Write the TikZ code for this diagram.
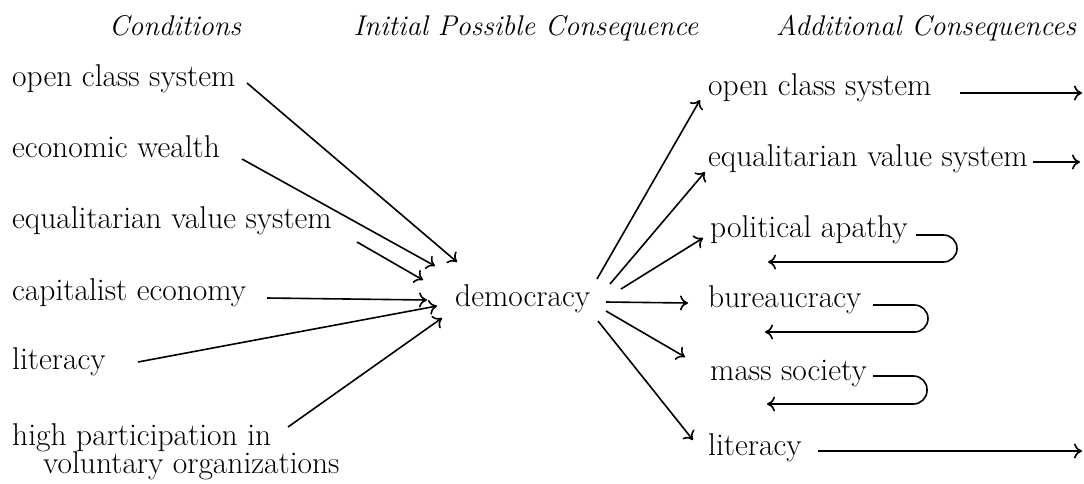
\documentclass[tikz,border=0pt]{standalone}
\usetikzlibrary{arrows.meta}
\begin{document}
\begin{tikzpicture}[x=1pt,y=-1pt,
  lab/.style={anchor=base west,inner sep=0pt,font=\fontsize{31.5}{36}\selectfont},
  head/.style={anchor=base,inner sep=0pt,font=\fontsize{28.5}{32}\selectfont\itshape},
  arr/.style={line width=1.6pt,-{To[length=8pt,width=15pt]}},
  loop/.style={arr,rounded corners=13.5pt}]
\useasboundingbox (0,0) rectangle (1084,483);
% headers
\node[head] (h1) at (175,35) {Conditions};
\node[head] (h2) at (526,35) {Initial Possible Consequence};
\node[head] (h3) at (926,35) {Additional Consequences};
% conditions
\node[lab] (c1) at (12,86) {open class system};
\node[lab] (c2) at (12,157) {economic wealth};
\node[lab] (c3) at (12,228) {equalitarian value system};
\node[lab] (c4) at (12,300) {capitalist economy};
\node[lab] (c5) at (12,369) {literacy};
\node[lab] (c6) at (12,445) {high participation in};
\node[lab] (c6b) at (43,473) {voluntary organizations};
% initial consequence
\node[lab] (demo) at (455,306) {democracy};
% additional consequences
\node[lab] (r1) at (708,95) {open class system};
\node[lab] (r2) at (708,166) {equalitarian value system};
\node[lab] (r3) at (710,237) {political apathy};
\node[lab] (r4) at (708,307) {bureaucracy};
\node[lab] (r5) at (710,380) {mass society};
\node[lab] (r6) at (708,455) {literacy};
% arrows into democracy
\draw[arr] ([shift={(235,-3)}]c1.base west) -- ([shift={(2,-44)}]demo.base west);
\draw[arr] ([shift={(230,2)}]c2.base west) -- ([shift={(-20,-40)}]demo.base west);
\draw[arr] ([shift={(345,14)}]c3.base west) -- ([shift={(-32,-26)}]demo.base west);
\draw[arr] ([shift={(255,-2)}]c4.base west) -- ([shift={(-28,-6)}]demo.base west);
\draw[arr] ([shift={(126,-7)}]c5.base west) -- ([shift={(-18,0)}]demo.base west);
\draw[arr] ([shift={(276,-18)}]c6.base west) -- ([shift={(-13,12)}]demo.base west);
% arrows out of democracy
\draw[arr] ([shift={(142,-27)}]demo.base west) -- ([shift={(-8,5)}]r1.base west);
\draw[arr] ([shift={(155,-22)}]demo.base west) -- ([shift={(-3,6)}]r2.base west);
\draw[arr] ([shift={(166,-17)}]demo.base west) -- ([shift={(-7,1)}]r3.base west);
\draw[arr] ([shift={(151,-4)}]demo.base west) -- ([shift={(-20,-4)}]r4.base west);
\draw[arr] ([shift={(151,5)}]demo.base west) -- ([shift={(-25,-23)}]r5.base west);
\draw[arr] ([shift={(143,15)}]demo.base west) -- ([shift={(-15,-15)}]r6.base west);
% further consequences
\coordinate (e1) at ([shift={(374,-2)}]r1.base west);
\coordinate (e2) at ([shift={(372,-4)}]r2.base west);
\coordinate (e6) at ([shift={(374,-4)}]r6.base west);
\draw[arr] ([shift={(252,-2)}]r1.base west) -- (e1);
\draw[arr] ([shift={(325,-4)}]r2.base west) -- (e2);
\draw[arr] ([shift={(110,-4)}]r6.base west) -- (e6);
% feedback loops
\draw[loop] ([shift={(206,-2)}]r3.base west) -- ([shift={(247,-2)}]r3.base west)
  -- ([shift={(247,25)}]r3.base west) -- ([shift={(58,25)}]r3.base west);
\draw[loop] ([shift={(165,-2)}]r4.base west) -- ([shift={(220,-2)}]r4.base west)
  -- ([shift={(220,25)}]r4.base west) -- ([shift={(57,25)}]r4.base west);
\draw[loop] ([shift={(163,-4)}]r5.base west) -- ([shift={(217,-4)}]r5.base west)
  -- ([shift={(217,24)}]r5.base west) -- ([shift={(57,24)}]r5.base west);
\end{tikzpicture}
\end{document}
